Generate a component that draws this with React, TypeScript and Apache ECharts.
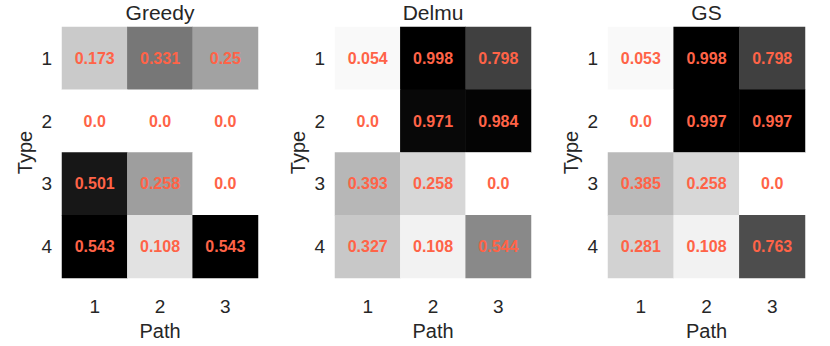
import React, { useEffect, useRef } from "react";
import * as echarts from "echarts";

const paths = ["1", "2", "3"];
const types = ["1", "2", "3", "4"];
const titles = ["Greedy", "Delmu", "GS"];

const greedy = [
  [0.173, 0.331, 0.25],
  [0.0, 0.0, 0.0],
  [0.501, 0.258, 0.0],
  [0.543, 0.108, 0.543],
];
const delmu = [
  [0.054, 0.998, 0.798],
  [0.0, 0.971, 0.984],
  [0.393, 0.258, 0.0],
  [0.327, 0.108, 0.544],
];
const gs = [
  [0.053, 0.998, 0.798],
  [0.0, 0.997, 0.997],
  [0.385, 0.258, 0.0],
  [0.281, 0.108, 0.763],
];

const greys = ["#ffffff", "#f0f0f0", "#d9d9d9", "#bdbdbd", "#969696", "#737373", "#525252", "#252525", "#000000"];

const panels = [greedy, delmu, gs];
const gridLefts = [62, 335, 608];
const gridWidths = [196, 196, 197];

const fmt = (v: number) => (v === 0 ? "0.0" : String(v));

export default function App() {
  const ref = useRef<HTMLDivElement>(null);
  useEffect(() => {
    document.body.style.margin = "0";
    const chart = echarts.init(ref.current!, null, { renderer: "svg" });
    const font = "'Liberation Sans', Arial, sans-serif";
    const textColor = "#262626";
    const grid: any[] = [];
    const xAxis: any[] = [];
    const yAxis: any[] = [];
    const series: any[] = [];
    const visualMap: any[] = [];
    const title: any[] = [];
    panels.forEach((m, i) => {
      grid.push({ left: gridLefts[i], top: 27, width: gridWidths[i], height: 262 });
      title.push({
        text: titles[i],
        left: gridLefts[i] + gridWidths[i] / 2,
        top: 2,
        padding: 0,
        textAlign: "center",
        textStyle: { fontFamily: font, fontSize: 21, fontWeight: "normal", color: textColor },
      });
      xAxis.push({
        type: "category",
        gridIndex: i,
        data: paths,
        name: "Path",
        nameLocation: "middle",
        nameGap: 39,
        nameTextStyle: { fontFamily: font, fontSize: 20, color: textColor },
        axisLine: { show: false },
        axisTick: { show: false },
        splitLine: { show: false },
        axisLabel: { fontFamily: font, fontSize: 19, color: textColor, margin: 19 },
      });
      yAxis.push({
        type: "category",
        gridIndex: i,
        data: types,
        inverse: true,
        name: "Type",
        nameLocation: "middle",
        nameGap: 27,
        nameTextStyle: { fontFamily: font, fontSize: 20, color: textColor },
        axisLine: { show: false },
        axisTick: { show: false },
        splitLine: { show: false },
        axisLabel: { fontFamily: font, fontSize: 19, color: textColor, margin: 10 },
      });
      const data: any[] = [];
      let max = 0;
      m.forEach((row, r) =>
        row.forEach((v, c) => {
          data.push([c, r, v]);
          if (v > max) max = v;
        })
      );
      visualMap.push({
        show: false,
        seriesIndex: i,
        min: 0,
        max,
        dimension: 2,
        inRange: { color: greys },
      });
      series.push({
        type: "heatmap",
        xAxisIndex: i,
        yAxisIndex: i,
        data,
        label: {
          show: true,
          formatter: (p: any) => fmt(p.value[2]),
          color: "#ff6347",
          fontFamily: font,
          fontWeight: "bold",
          fontSize: 16,
        },
        itemStyle: { borderWidth: 0 },
        emphasis: { disabled: true },
      });
    });
    chart.setOption({
      animation: false,
      backgroundColor: "#ffffff",
      title,
      grid,
      xAxis,
      yAxis,
      visualMap,
      series,
    });
    return () => chart.dispose();
  }, []);
  return <div ref={ref} style={{ width: 830, height: 346 }} />;
}
